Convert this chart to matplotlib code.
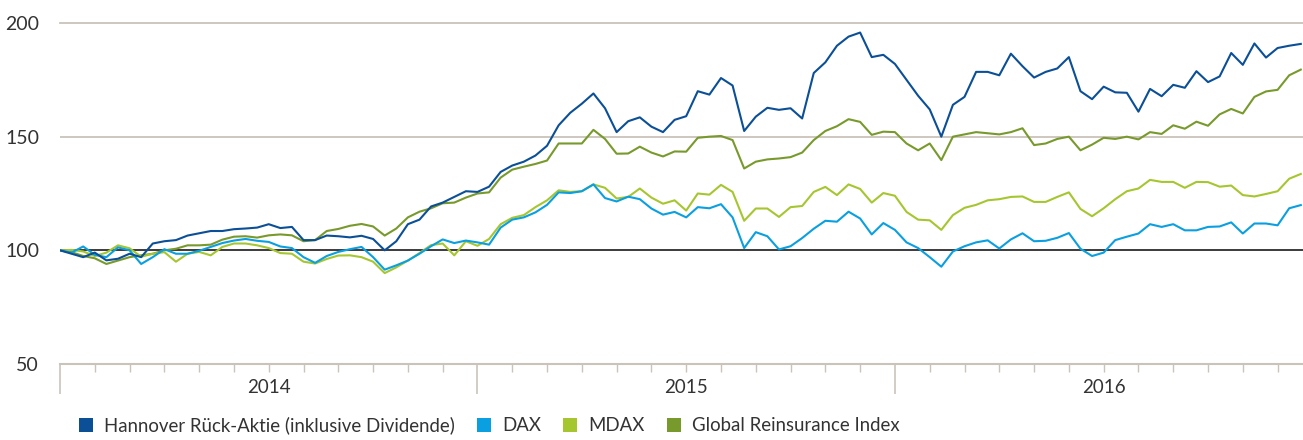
import matplotlib
matplotlib.use('Agg')
import matplotlib.pyplot as plt
from matplotlib.patches import Patch
from matplotlib.ticker import FixedLocator
import numpy as np

plt.rcParams['font.family'] = ['Lato', 'DejaVu Sans']

# data: indexed performance, start of 2014 = 100, read every third of a month
months = np.arange(108) / 3.0

hannover = [100, 98.5, 97, 99, 95.6, 96.3, 98.5, 97, 103, 104,
            104.5, 106.5, 107.5, 108.5, 108.5, 109.3, 109.6, 110, 111.5, 109.8,
            110.3, 104.5, 104.5, 106.5, 106.2, 105.7, 106.4, 105, 100, 104,
            111.5, 113.5,
            119.3, 121, 123.5, 126, 125.7, 128, 134.5, 137.3, 139, 141.7,
            146, 155, 160.5, 164.5, 169, 162.5, 152, 156.8, 158.5, 154.4,
            152, 157.4, 159, 170, 168.5, 175.8, 172.5, 152.5, 158.8, 162.7,
            161.8, 162.5, 158, 178, 182.7, 190, 194, 195.8,
            185, 186, 182, 175, 168, 162, 150, 164, 167.5, 178.5,
            178.5, 177, 186.5, 181, 176, 178.5, 180, 185, 170, 166.5,
            172, 169.5, 169.3, 161, 171, 167.8, 172.8, 171.5, 178.8, 174,
            176.5, 186.8, 181.6, 191, 184.8, 189, 190, 190.8]

dax = [100, 99, 101.7, 98, 97, 101.3, 100, 94, 97, 100.5,
       98.5, 98.5, 99.8, 101.5, 103.2, 104.3, 105, 104.2, 103.7, 101.7,
       101, 97, 94.5, 97.5, 99.3, 100.5, 101.5, 97, 91.5, 93.4,
       95.5, 98.5,
       101.8, 104.8, 103.2, 104.3, 103.5, 102.5, 110, 113.5, 114.5, 116.7,
       120, 125.5, 125.2, 126, 129, 123, 121.5, 123.6, 122.5, 118.4,
       115.7, 116.9, 114.5, 119, 118.5, 120.3, 114.5, 101, 108, 106.2,
       100.4, 101.8, 105.4, 109.5, 113, 112.6, 117, 114,
       107, 112, 109, 103.5, 101, 97, 92.8, 99.5, 101.8, 103.5,
       104.4, 100.8, 104.8, 107.5, 104, 104.2, 105.5, 107.6, 100.7, 97.5,
       99, 104.5, 106, 107.4, 111.5, 110.3, 111.5, 108.8, 108.8, 110.3,
       110.5, 112.3, 107.4, 111.8, 111.8, 111, 118.5, 119.9]

mdax = [100, 100.2, 99.5, 97.5, 99, 102.2, 100.9, 97.2, 98.5, 99.2,
        95, 98.5, 99.3, 97.8, 101.5, 103, 103, 102.2, 101, 98.8,
        98.5, 95, 94.2, 96.2, 97.7, 97.8, 97, 95, 90, 92.5,
        95.5, 98.8,
        102.3, 103, 97.8, 104, 102, 105, 111.5, 114.3, 115.5, 119,
        122, 126.4, 125.7, 126, 129, 127.5, 122.8, 123.5, 127.2, 123.2,
        120.5, 122, 117.5, 125, 124.5, 128.8, 125.7, 113, 118.4, 118.4,
        114.7, 119, 119.5, 125.7, 127.9, 124.3, 129, 127,
        121, 125.2, 124, 116.9, 113.5, 113.2, 109, 115.5, 118.7, 120,
        122, 122.5, 123.5, 123.7, 121.3, 121.3, 123.5, 125.5, 118.2, 115,
        118.5, 122.5, 126, 127.2, 131, 130.1, 130.1, 127.5, 130.1, 130,
        128, 128.5, 124.3, 123.7, 124.8, 126, 131.5, 133.6]

reinsurance = [100, 99.2, 97.5, 96.5, 94, 95.5, 97, 97.8, 98.5, 100,
               100.7, 102.2, 102.2, 102.5, 104.7, 106, 106.2, 105.6, 106.6, 107,
               106.6, 104, 104.5, 108.5, 109.4, 110.8, 111.6, 110.5, 106.5, 109.6,
               114.5, 117,
               118.5, 120.7, 121, 123.2, 125, 125.5, 132, 135.5, 136.8, 138,
               139.5, 147, 147, 147, 153, 149, 142.5, 142.6, 145.6, 143,
               141.3, 143.5, 143.4, 149.5, 150, 150.3, 148.5, 136, 139, 140,
               140.4, 141, 143, 148.5, 152.5, 154.6, 157.7, 156.5,
               150.8, 152.2, 152, 147, 144, 147, 139.7, 150, 151, 152,
               151.5, 151, 152, 153.7, 146.3, 147, 149, 150, 144, 146.5,
               149.5, 149, 150, 148.8, 152, 151.2, 155, 153.5, 156.6, 154.8,
               159.8, 162.2, 160.2, 167.5, 169.9, 170.6, 177, 179.5]

labels = ['Hannover Rück-Aktie (inklusive Dividende)', 'DAX', 'MDAX',
          'Global Reinsurance Index']
colors = ['#0b4f97', '#0a9fe0', '#a6c630', '#789a2c']
years = ['2014', '2015', '2016']
y_ticks = [50, 100, 150, 200]

grid_col = '#c9c3ba'
text_col = '#333333'

# figure with hand-placed axes
W, H = 1303, 440
fig = plt.figure(figsize=(W / 100, H / 100), dpi=100)
ax = fig.add_axes([60 / W, 1 - 364 / H, 1 - 60 / W, 341 / H])

# lines, Hannover on top
ax.plot(months, reinsurance, color=colors[3], lw=1.5, zorder=3)
ax.plot(months, mdax, color=colors[2], lw=1.5, zorder=4)
ax.plot(months, dax, color=colors[1], lw=1.5, zorder=5)
ax.plot(months, hannover, color=colors[0], lw=1.5, zorder=6)

ax.set_xlim(0, 35.73)
ax.set_ylim(50, 200)

# grid and baseline
ax.axhline(150, color=grid_col, lw=1.3, zorder=1)
ax.axhline(200, color=grid_col, lw=1.3, zorder=1, clip_on=False)
ax.axhline(100, color='#1a1a1a', lw=1.2, zorder=2)

for s in ['top', 'right', 'left']:
    ax.spines[s].set_visible(False)
ax.spines['bottom'].set_color(grid_col)
ax.spines['bottom'].set_linewidth(1.5)

# y axis
ax.set_yticks(y_ticks)
ax.set_yticklabels([str(v) for v in y_ticks])
ax.tick_params(axis='y', length=0, pad=15, labelsize=14, labelcolor=text_col)

# x axis: year separators and month ticks
ax.xaxis.set_major_locator(FixedLocator([0, 12, 24]))
ax.xaxis.set_minor_locator(FixedLocator([m for m in range(1, 36) if m % 12]))
ax.set_xticklabels([])
ax.tick_params(axis='x', which='major', length=21.5, width=1.2, color=grid_col)
ax.tick_params(axis='x', which='minor', length=5.8, width=1.0, color=grid_col)

for i, yr in enumerate(years):
    ax.text(12 * i + 6, -0.068, yr, transform=ax.get_xaxis_transform(),
            ha='center', va='center', fontsize=13.5, color=text_col)

# legend
handles = [Patch(facecolor=c, edgecolor='none') for c in colors]
fig.legend(handles, labels, loc='lower left', bbox_to_anchor=(73 / W, 0.0),
           ncol=4, frameon=False, fontsize=13.4, labelcolor=text_col,
           handlelength=0.75, handleheight=0.75, handletextpad=0.6,
           columnspacing=1.2, borderaxespad=0.1, borderpad=0.2)

fig.savefig('out.png', dpi=100)
